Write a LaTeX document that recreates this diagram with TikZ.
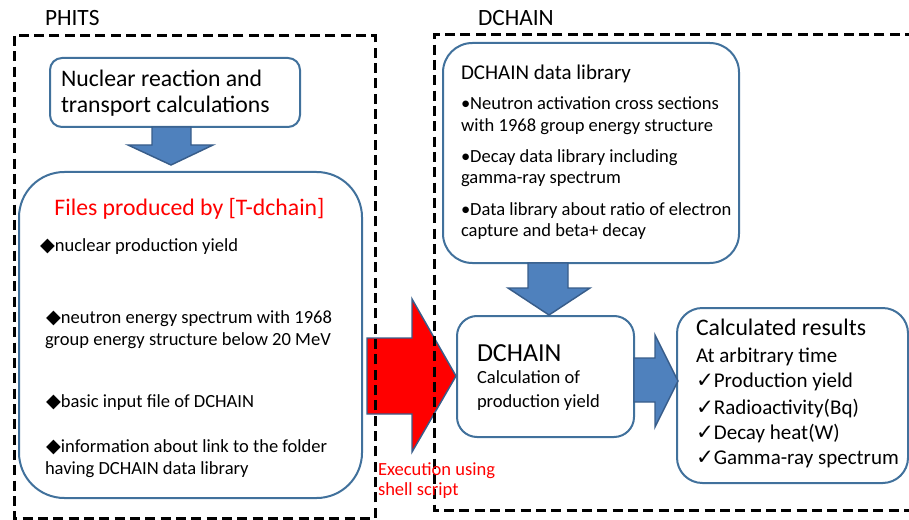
\documentclass[tikz,border=0pt]{standalone}
\usepackage{fontspec}
\setmainfont{Carlito}
\newfontfamily\symfont{DejaVu Sans}
\usetikzlibrary{fit,calc}
\definecolor{boxblue}{HTML}{41719C}
\definecolor{arrowblue}{HTML}{4F81BD}
\definecolor{arrowedge}{HTML}{385D8A}
\definecolor{txtred}{HTML}{FF0000}
\newcommand{\fsBig}{\fontsize{17.8pt}{21pt}\selectfont}
\newcommand{\fsHead}{\fontsize{17.5pt}{21pt}\selectfont}
\newcommand{\fsMid}{\fontsize{15.75pt}{19pt}\selectfont}
\newcommand{\fsSmall}{\fontsize{13.9pt}{17pt}\selectfont}
\newcommand{\fsDchain}{\fontsize{19.5pt}{23pt}\selectfont}
\newcommand{\dia}{{\symfont\fontsize{14.5pt}{15pt}\selectfont ◆}}
\newcommand{\chk}{{\symfont\fontsize{16pt}{15pt}\selectfont ✓}}
\begin{document}
\begin{tikzpicture}[x=0.75pt,y=-0.75pt,
  rbox/.style={draw=boxblue, line width=1.5pt, fill=white, inner sep=0pt, outer sep=0pt},
  barrow/.style={draw=arrowedge, fill=arrowblue, line width=1.1pt, line join=miter},
  rarrow/.style={draw=arrowedge, fill=txtred, line width=1.1pt, line join=miter},
  dashbox/.style={draw=black, line width=2.25pt, dash pattern=on 7.5pt off 4pt},
  lbl/.style={anchor=base west, inner sep=0pt, outer sep=0pt}]
\useasboundingbox (0,0) rectangle (909,520);

% ---------- boxes ----------
\coordinate (nucA) at (50,58);   \coordinate (nucB) at (300,127);
\node[rbox, rounded corners=9pt, fit=(nucA)(nucB)] (nuc) {};
\coordinate (filA) at (19,172);  \coordinate (filB) at (362,498);
\node[rbox, rounded corners=34pt, fit=(filA)(filB)] (files) {};
\coordinate (libA) at (443,43);  \coordinate (libB) at (739,263);
\node[rbox, rounded corners=22pt, fit=(libA)(libB)] (lib) {};
\coordinate (dcA) at (457,316);  \coordinate (dcB) at (634,437);
\node[rbox, rounded corners=15pt, fit=(dcA)(dcB)] (dchain) {};
\coordinate (resA) at (677,308); \coordinate (resB) at (908,483);
\node[rbox, rounded corners=19pt, fit=(resA)(resB)] (res) {};

% ---------- block arrows ----------
\draw[barrow] (152,127) -- (191,127) -- (191,145) -- (213,145) -- (171,165)
  -- (128,145) -- (152,145) -- cycle;
\draw[barrow] (528,263) -- (568,263) -- (568,288) -- (590,288) -- (549,315)
  -- (508,288) -- (528,288) -- cycle;
\draw[barrow] (634,358) -- (655,358) -- (655,335) -- (678,381) -- (655,427)
  -- (655,402) -- (634,402) -- cycle;
\draw[rarrow] (367,338) -- (412,338) -- (412,299) -- (456,376) -- (412,452)
  -- (412,414) -- (367,414) -- cycle;

% ---------- dashed frames ----------
\draw[dashbox] (14,36) rectangle (375,518);
\draw[dashbox] (915,35) -- (434,35) -- (434,510) -- (915,510);

% ---------- labels ----------
\node[lbl, font=\fsHead] (tphits) at (45,26) {PHITS};
\node[lbl, font=\fsHead] (tdchain) at (478,26) {DCHAIN};

\node[lbl, font=\fsBig] (n1) at (61,87) {Nuclear reaction and};
\node[lbl, font=\fsBig] (n2) at (61,113) {transport calculations};

\node[anchor=base, inner sep=0pt, font=\fsBig, text=txtred] (ftitle) at (189.5,215) {Files produced by [T-dchain]};
\node[lbl, font=\fsSmall] (f1) at (40,251) {\dia nuclear production yield};
\node[lbl, font=\fsSmall] (f2a) at (46,323) {\dia neutron energy spectrum with 1968};
\node[lbl, font=\fsSmall] (f2b) at (45,345) {group energy structure below 20 MeV};
\node[lbl, font=\fsSmall] (f3) at (46,407) {\dia basic input file of DCHAIN};
\node[lbl, font=\fsSmall] (f4a) at (46,452) {\dia information about link to the folder};
\node[lbl, font=\fsSmall] (f4b) at (45,474) {having DCHAIN data library};

\node[lbl, font=\fsMid] (l0) at (461,80) {DCHAIN data library};
\node[lbl, font=\fsSmall] (l1a) at (461,110) {•Neutron activation cross sections};
\node[lbl, font=\fsSmall] (l1b) at (461,132) {with 1968 group energy structure};
\node[lbl, font=\fsSmall] (l2a) at (461,163) {•Decay data library including};
\node[lbl, font=\fsSmall] (l2b) at (461,184) {gamma-ray spectrum};
\node[lbl, font=\fsSmall] (l3a) at (461,215) {•Data library about ratio of electron};
\node[lbl, font=\fsSmall] (l3b) at (461,237) {capture and beta+ decay};

\node[lbl, font=\fsDchain] (d0) at (477,361) {DCHAIN};
\node[lbl, font=\fsSmall] (d1) at (477,383) {Calculation of};
\node[lbl, font=\fsSmall] (d2) at (477,407) {production yield};

\node[lbl, font=\fsBig] (r0) at (696,335) {Calculated results};
\node[lbl, font=\fsMid] (r1) at (696,362) {At arbitrary time};
\node[lbl, font=\fsMid] (r2) at (696,387) {\chk Production yield};
\node[lbl, font=\fsMid] (r3) at (696,414) {\chk Radioactivity(Bq)};
\node[lbl, font=\fsMid] (r4) at (696,439) {\chk Decay heat(W)};
\node[lbl, font=\fsMid] (r5) at (696,464) {\chk Gamma-ray spectrum};

\node[lbl, font=\fsSmall, text=txtred] (e1) at (378,475) {Execution using};
\node[lbl, font=\fsSmall, text=txtred] (e2) at (378,495) {shell script};
\end{tikzpicture}
\end{document}
